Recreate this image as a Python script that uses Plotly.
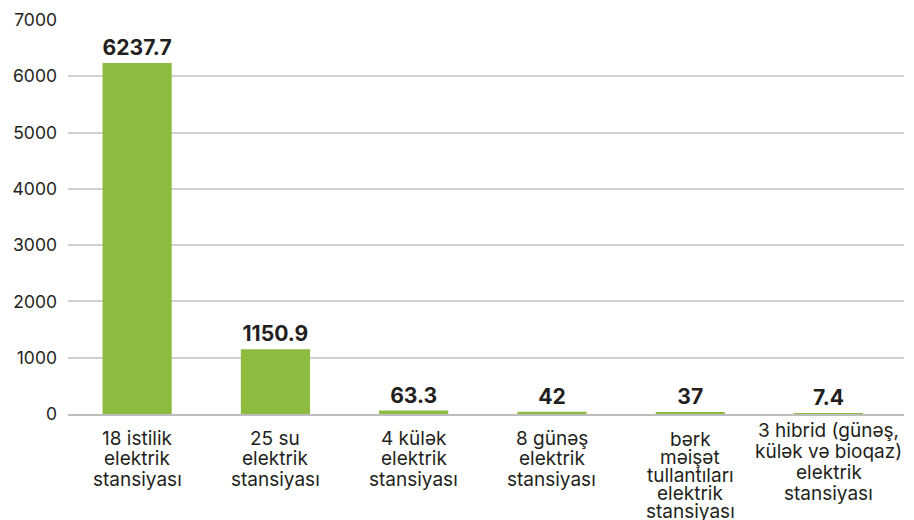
import plotly.graph_objects as go

# Installed capacity by power-station type, MW
categories = [
    "18 istilik elektrik stansiyası",
    "25 su elektrik stansiyası",
    "4 külək elektrik stansiyası",
    "8 günəş elektrik stansiyası",
    "bərk məişət tullantıları elektrik stansiyası",
    "3 hibrid (günəş, külək və bioqaz) elektrik stansiyası",
]
category_lines = [
    ["18 istilik", "elektrik", "stansiyası"],
    ["25 su", "elektrik", "stansiyası"],
    ["4 külək", "elektrik", "stansiyası"],
    ["8 günəş", "elektrik", "stansiyası"],
    ["bərk", "məişət", "tullantıları", "elektrik", "stansiyası"],
    ["3 hibrid (günəş,", "külək və bioqaz)", "elektrik", "stansiyası"],
]
values = [6237.7, 1150.9, 63.3, 42, 37, 7.4]
value_labels = ["6237.7", "1150.9", "63.3", "42", "37", "7.4"]
y_ticks = [0, 1000, 2000, 3000, 4000, 5000, 6000, 7000]

FONT = "Inter, sans-serif"
TEXT = "#231f20"

# Category label wrapping: (first-line offset below axis, line pitch) in px
label_layout = {3: (24, 20.5), 4: (16, 21), 5: (25, 18)}

fig = go.Figure(
    go.Bar(
        x=categories,
        y=values,
        text=value_labels,
        textposition="outside",
        cliponaxis=False,
        textfont=dict(family=FONT, size=22, color=TEXT, weight="bold"),
        marker=dict(color="#8dbb3f", line=dict(width=0)),
    )
)

for cat, lines in zip(categories, category_lines):
    first, pitch = label_layout[len(lines)]
    for i, line in enumerate(lines):
        fig.add_annotation(
            x=cat,
            xref="x",
            y=0,
            yref="paper",
            text=line,
            showarrow=False,
            xanchor="center",
            yanchor="middle",
            yshift=-(first + i * pitch),
            font=dict(family=FONT, size=19, color=TEXT),
        )

fig.update_layout(
    width=914,
    height=520,
    margin=dict(l=68, r=10, t=20, b=106),
    paper_bgcolor="white",
    plot_bgcolor="white",
    bargap=0.5,
    showlegend=False,
    font=dict(family=FONT, color=TEXT),
    uniformtext=dict(minsize=10, mode="show"),
)

fig.update_yaxes(
    range=[0, 7000],
    tickvals=y_ticks,
    ticktext=[str(v) for v in y_ticks],
    tickfont=dict(family=FONT, size=17.5, color=TEXT),
    showgrid=True,
    gridcolor="#d0d0d0",
    gridwidth=1.5,
    zeroline=False,
    showline=False,
    ticks="",
    ticklabelstandoff=10,
    automargin=False,
)

fig.update_xaxes(
    showticklabels=False,
    showline=True,
    linecolor="#bdbdbd",
    linewidth=2,
    ticks="",
    automargin=False,
)

fig.write_html("out.html")
